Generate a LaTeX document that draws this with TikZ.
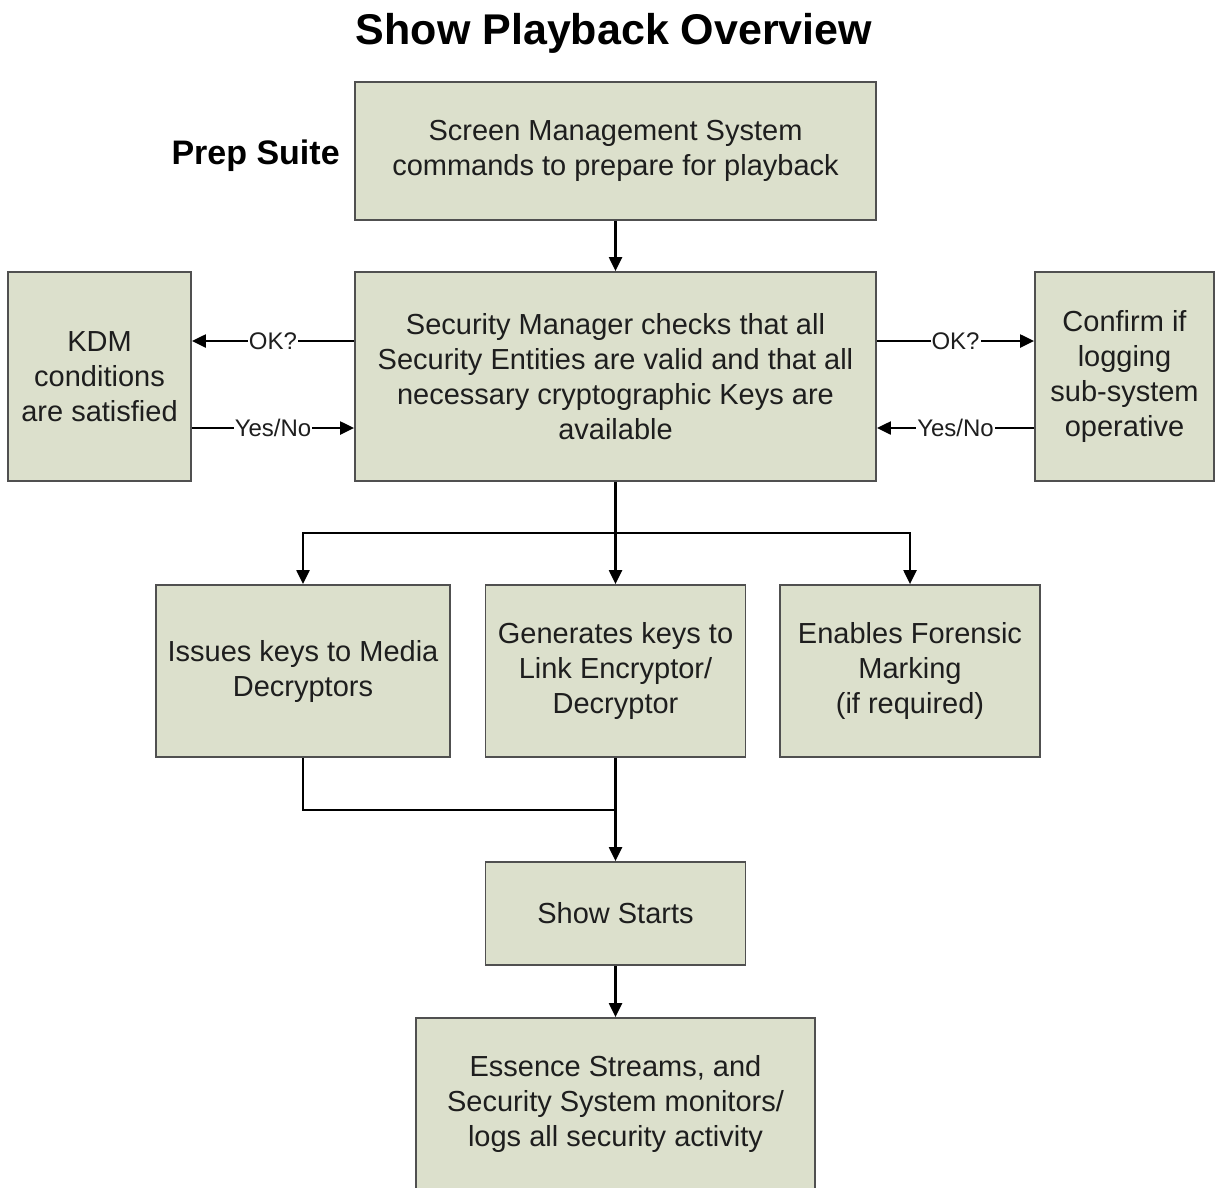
\documentclass[tikz,border=0pt]{standalone}
\usepackage{fontspec}
\setmainfont{Liberation Sans}
\usetikzlibrary{arrows.meta,calc}
\definecolor{boxfill}{RGB}{220,224,204}
\definecolor{boxedge}{RGB}{80,80,80}
\definecolor{txt}{RGB}{30,30,30}
\tikzset{
  box/.style={draw=boxedge, line width=1.8pt, fill=boxfill, align=center, inner sep=0pt,
    text=txt, font=\fontsize{29}{35}\selectfont},
  conn/.style={draw=black, line width=2.2pt},
  arr/.style={conn, -{Triangle[length=14pt,width=13pt]}},
  lbl/.style={fill=white, inner sep=1pt, text=txt, font=\fontsize{24}{28}\selectfont},
}
\begin{document}
\begin{tikzpicture}[x=1pt,y=-1pt]
\useasboundingbox (0,0) rectangle (1215,1187);
\node[anchor=base, font=\bfseries\fontsize{43}{50}\selectfont] (title) at (614,44) {Show Playback Overview};
\node[anchor=base west, font=\bfseries\fontsize{34}{40}\selectfont] (prep) at (168,164) {Prep Suite};

\node[box, minimum width=521pt, minimum height=138pt] (top) at (615.5,151) {Screen Management System\\commands to prepare for playback};
\node[box, minimum width=521pt, minimum height=209pt] (mid) at (615.5,376.5) {Security Manager checks that all\\Security Entities are valid and that all\\necessary cryptographic Keys are\\available};
\node[box, minimum width=183pt, minimum height=209pt] (kdm) at (99.5,376.5) {KDM\\conditions\\are satisfied};
\node[box, minimum width=179pt, minimum height=209pt] (log) at (1124.5,376.5) {Confirm if\\logging\\sub-system\\operative};

\node[box, minimum width=294pt, minimum height=172pt] (b1) at (303,671) {Issues keys to Media\\Decryptors};
\node[box, minimum width=260pt, minimum height=172pt] (b2) at (615.5,671) {Generates keys to\\Link Encryptor/\\Decryptor};
\node[box, minimum width=260pt, minimum height=172pt] (b3) at (910,671) {Enables Forensic\\Marking\\(if required)};

\node[box, minimum width=260pt, minimum height=103pt] (show) at (615.5,913.5) {Show Starts};
\node[box, minimum width=399pt, minimum height=172pt] (ess) at (615.5,1104) {Essence Streams, and\\Security System monitors/\\logs all security activity};

\draw[arr] (top) -- (mid);
\draw[arr] ([yshift=35.5pt]mid.west) -- node[lbl]{OK?} ([yshift=35.5pt]kdm.east);
\draw[arr] ([yshift=-51.5pt]kdm.east) -- node[lbl]{Yes/No} ([yshift=-51.5pt]mid.west);
\draw[arr] ([yshift=35.5pt]mid.east) -- node[lbl]{OK?} ([yshift=35.5pt]log.west);
\draw[arr] ([yshift=-51.5pt]log.west) -- node[lbl]{Yes/No} ([yshift=-51.5pt]mid.east);

\coordinate (split) at (615.5,533);
\draw[arr] (mid.south) -- (b2.north);
\draw[arr] (split) -| (b1.north);
\draw[arr] (split) -| (b3.north);

\coordinate (merge) at (615.5,810);
\draw[conn] (b1.south) |- (merge);
\draw[arr] (b2.south) -- (show.north);
\draw[arr] (show.south) -- (ess.north);
\end{tikzpicture}
\end{document}
